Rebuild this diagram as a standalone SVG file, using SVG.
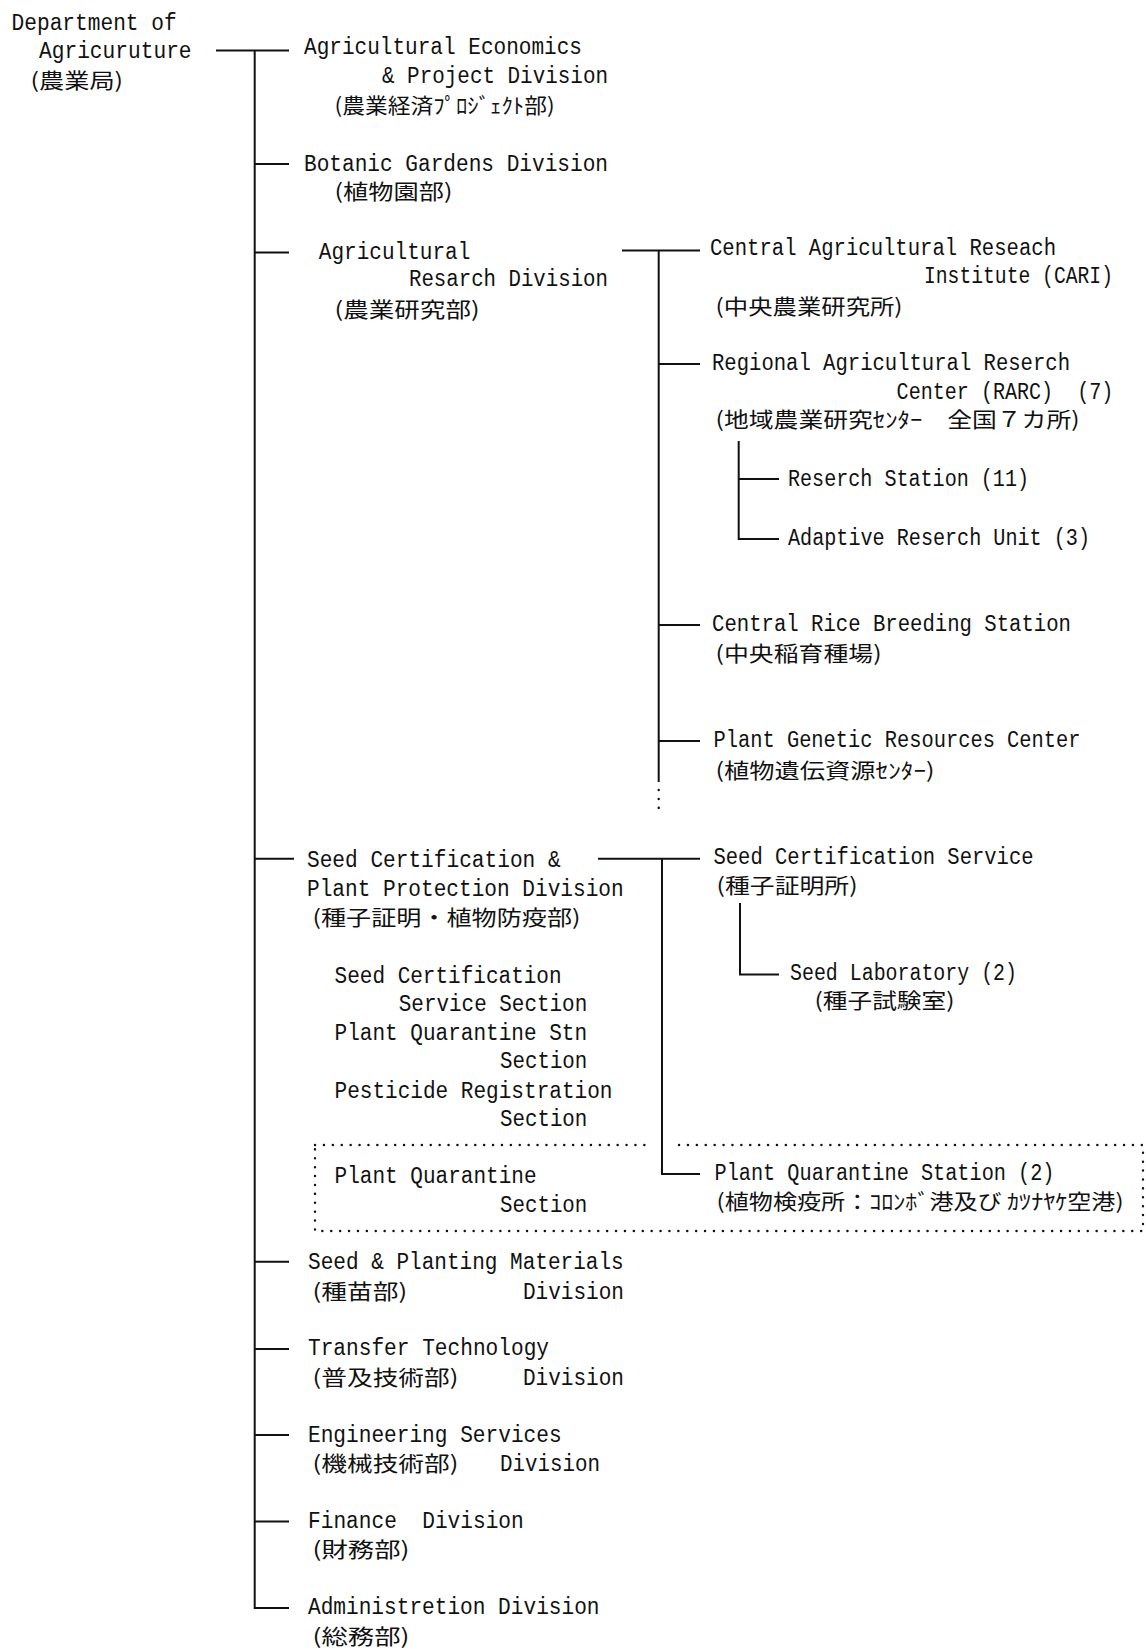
<svg xmlns="http://www.w3.org/2000/svg" width="1146" height="1650" viewBox="0 0 1146 1650">
<style>
.t{font-family:"Liberation Mono","DejaVu Sans Mono",monospace;font-size:23px;fill:#111;white-space:pre}
.j{font-family:"Noto Sans CJK JP","Noto Sans CJK SC",sans-serif;font-size:21px;fill:#111}
.c{stroke:#111;stroke-width:2;fill:none}
.d{stroke:#111;stroke-width:2.4;fill:none;stroke-dasharray:0.1 8.8;stroke-linecap:round}
</style>
<rect width="1146" height="1650" fill="#fff"/>
<g id="connectors">
<path class="c" d="M216 50.5H289 M254.7 50.5V1608H289 M254.7 164H289 M254.7 252.5H289 M254.7 858.7H294 M254.7 1261.7H289 M254.7 1349H289 M254.7 1435H289 M254.7 1521.6H289"/>
<path class="c" d="M622 250.5H700 M658.7 250.5V782 M658.7 364H700 M658.7 625H700 M658.7 741H700"/>
<path class="d" d="M658.7 790V808"/>
<path class="c" d="M738.7 441V539H779 M738.7 479H779"/>
<path class="c" d="M598 858.7H700 M662 858.7V1174H700"/>
<path class="c" d="M740 903V974.5H779"/>
<path class="d" d="M315 1145H647 M679 1145H1143V1231H315V1145"/>
</g>
<g id="dept">
<text class="t" x="11.6" y="29.5" textLength="165" lengthAdjust="spacingAndGlyphs">Department of</text>
<text class="t" x="39" y="58" textLength="152.6" lengthAdjust="spacingAndGlyphs">Agricuruture</text>
<text class="j" x="30.5" y="88.4" textLength="92.6" lengthAdjust="spacingAndGlyphs">(農業局)</text>
</g>
<g id="agri-econ">
<text class="t" x="304" y="53.7" textLength="278" lengthAdjust="spacingAndGlyphs">Agricultural Economics</text>
<text class="t" x="382" y="83" textLength="226" lengthAdjust="spacingAndGlyphs">&amp; Project Division</text>
<text class="j" x="334.6" y="112.6" textLength="220" lengthAdjust="spacingAndGlyphs">(農業経済ﾌﾟﾛｼﾞｪｸﾄ部)</text>
</g>
<g id="botanic">
<text class="t" x="304" y="171" textLength="304" lengthAdjust="spacingAndGlyphs">Botanic Gardens Division</text>
<text class="j" x="334.6" y="199" textLength="117.9" lengthAdjust="spacingAndGlyphs">(植物園部)</text>
</g>
<g id="agri-research">
<text class="t" x="318.8" y="259" textLength="151.5" lengthAdjust="spacingAndGlyphs">Agricultural</text>
<text class="t" x="409" y="286" textLength="199" lengthAdjust="spacingAndGlyphs">Resarch Division</text>
<text class="j" x="334.6" y="316.7" textLength="145" lengthAdjust="spacingAndGlyphs">(農業研究部)</text>
</g>
<g id="cari">
<text class="t" x="710" y="254.7" textLength="346" lengthAdjust="spacingAndGlyphs">Central Agricultural Reseach</text>
<text class="t" x="924" y="283" textLength="189" lengthAdjust="spacingAndGlyphs">Institute (CARI)</text>
<text class="j" x="715.6" y="313.6" textLength="187" lengthAdjust="spacingAndGlyphs">(中央農業研究所)</text>
</g>
<g id="rarc">
<text class="t" x="712" y="370.4" textLength="358" lengthAdjust="spacingAndGlyphs">Regional Agricultural Reserch</text>
<text class="t" x="896.6" y="398.8" textLength="216.8" lengthAdjust="spacingAndGlyphs" xml:space="preserve">Center (RARC)  (7)</text>
<text class="j" x="715.6" y="427" textLength="364" lengthAdjust="spacingAndGlyphs">(地域農業研究ｾﾝﾀｰ　全国７カ所)</text>
</g>
<g id="research-station">
<text class="t" x="788" y="486" textLength="241" lengthAdjust="spacingAndGlyphs">Reserch Station (11)</text>
</g>
<g id="adaptive-unit">
<text class="t" x="788" y="545" textLength="302" lengthAdjust="spacingAndGlyphs">Adaptive Reserch Unit (3)</text>
</g>
<g id="rice-station">
<text class="t" x="712" y="631" textLength="359" lengthAdjust="spacingAndGlyphs">Central Rice Breeding Station</text>
<text class="j" x="715.6" y="661" textLength="166" lengthAdjust="spacingAndGlyphs">(中央稲育種場)</text>
</g>
<g id="genetic-center">
<text class="t" x="713.5" y="747" textLength="367" lengthAdjust="spacingAndGlyphs">Plant Genetic Resources Center</text>
<text class="j" x="715.6" y="777.7" textLength="219" lengthAdjust="spacingAndGlyphs">(植物遺伝資源ｾﾝﾀｰ)</text>
</g>
<g id="seed-cert-div">
<text class="t" x="307" y="867" textLength="253.6" lengthAdjust="spacingAndGlyphs">Seed Certification &amp;</text>
<text class="t" x="307" y="895.5" textLength="316.7" lengthAdjust="spacingAndGlyphs">Plant Protection Division</text>
<text class="j" x="312.5" y="925" textLength="268" lengthAdjust="spacingAndGlyphs">(種子証明・植物防疫部)</text>
<text class="t" x="334.6" y="983" textLength="227" lengthAdjust="spacingAndGlyphs">Seed Certification</text>
<text class="t" x="398.8" y="1011" textLength="188.4" lengthAdjust="spacingAndGlyphs">Service Section</text>
<text class="t" x="334.6" y="1039.7" textLength="252.5" lengthAdjust="spacingAndGlyphs">Plant Quarantine Stn</text>
<text class="t" x="500" y="1068" textLength="87.3" lengthAdjust="spacingAndGlyphs">Section</text>
<text class="t" x="334.6" y="1097.5" textLength="277.8" lengthAdjust="spacingAndGlyphs">Pesticide Registration</text>
<text class="t" x="500" y="1126" textLength="87.3" lengthAdjust="spacingAndGlyphs">Section</text>
</g>
<g id="pq-section">
<text class="t" x="334.6" y="1183" textLength="202" lengthAdjust="spacingAndGlyphs">Plant Quarantine</text>
<text class="t" x="500" y="1212" textLength="87.3" lengthAdjust="spacingAndGlyphs">Section</text>
</g>
<g id="seed-cert-service">
<text class="t" x="713.5" y="864" textLength="320" lengthAdjust="spacingAndGlyphs">Seed Certification Service</text>
<text class="j" x="716.6" y="893.4" textLength="141" lengthAdjust="spacingAndGlyphs">(種子証明所)</text>
</g>
<g id="seed-lab">
<text class="t" x="790" y="980" textLength="227" lengthAdjust="spacingAndGlyphs">Seed Laboratory (2)</text>
<text class="j" x="814.5" y="1008" textLength="140" lengthAdjust="spacingAndGlyphs">(種子試験室)</text>
</g>
<g id="pq-station">
<text class="t" x="714.5" y="1179.6" textLength="340" lengthAdjust="spacingAndGlyphs">Plant Quarantine Station (2)</text>
<text class="j" x="716.6" y="1209" textLength="407" lengthAdjust="spacingAndGlyphs">(植物検疫所：ｺﾛﾝﾎﾞ港及び ｶﾂﾅﾔｹ空港)</text>
</g>
<g id="seed-planting">
<text class="t" x="308" y="1269" textLength="315.7" lengthAdjust="spacingAndGlyphs">Seed &amp; Planting Materials</text>
<text class="j" x="312.5" y="1298.5" textLength="94.7" lengthAdjust="spacingAndGlyphs">(種苗部)</text>
<text class="t" x="523" y="1298.5" textLength="101" lengthAdjust="spacingAndGlyphs">Division</text>
</g>
<g id="transfer-tech">
<text class="t" x="308" y="1355" textLength="241" lengthAdjust="spacingAndGlyphs">Transfer Technology</text>
<text class="j" x="312.5" y="1385" textLength="146" lengthAdjust="spacingAndGlyphs">(普及技術部)</text>
<text class="t" x="523" y="1385" textLength="101" lengthAdjust="spacingAndGlyphs">Division</text>
</g>
<g id="engineering">
<text class="t" x="308" y="1441.6" textLength="253.6" lengthAdjust="spacingAndGlyphs">Engineering Services</text>
<text class="j" x="312.5" y="1471" textLength="146" lengthAdjust="spacingAndGlyphs">(機械技術部)</text>
<text class="t" x="500" y="1471" textLength="100" lengthAdjust="spacingAndGlyphs">Division</text>
</g>
<g id="finance">
<text class="t" x="308" y="1528" textLength="215.7" lengthAdjust="spacingAndGlyphs" xml:space="preserve">Finance  Division</text>
<text class="j" x="312.5" y="1557" textLength="97" lengthAdjust="spacingAndGlyphs">(財務部)</text>
</g>
<g id="admin">
<text class="t" x="308" y="1614" textLength="291.5" lengthAdjust="spacingAndGlyphs">Administretion Division</text>
<text class="j" x="312.5" y="1644" textLength="97" lengthAdjust="spacingAndGlyphs">(総務部)</text>
</g>
</svg>
